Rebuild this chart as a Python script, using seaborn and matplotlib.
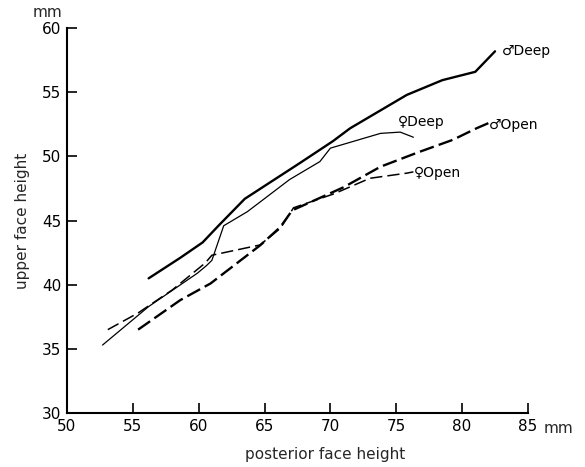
import matplotlib
matplotlib.use("Agg")
import matplotlib.pyplot as plt
import seaborn as sns
import pandas as pd

# Data (posterior face height vs upper face height, mm)
male_deep_x = [56.2, 58.6, 60.3, 61.5, 63.5, 67.7, 70.2, 71.5, 75.8, 78.5, 81.0, 82.5]
male_deep_y = [40.5, 42.1, 43.3, 44.6, 46.7, 49.5, 51.2, 52.2, 54.8, 55.95, 56.6, 58.2]

female_deep_x = [52.7, 56.2, 59.9, 60.6, 61.0, 61.9, 63.7, 66.9, 69.2, 70.0, 73.8, 75.3, 76.3]
female_deep_y = [35.3, 38.3, 40.9, 41.5, 41.9, 44.6, 45.7, 48.2, 49.6, 50.65, 51.8, 51.9, 51.5]

male_open_x = [55.4, 58.6, 60.9, 64.7, 66.2, 67.1, 71.0, 73.8, 76.6, 79.3, 81.1, 82.0]
male_open_y = [36.5, 38.8, 40.1, 43.1, 44.5, 45.8, 47.6, 49.2, 50.3, 51.3, 52.2, 52.6]

female_open_x = [53.1, 55.4, 58.0, 60.5, 61.0, 64.65, 66.2, 67.2, 70.3, 73.0, 75.8, 76.3]
female_open_y = [36.5, 37.8, 39.6, 41.7, 42.3, 43.1, 44.4, 46.0, 47.1, 48.3, 48.7, 48.8]

series_labels = ["\u2642Deep", "\u2640Deep", "\u2642Open", "\u2640Open"]
label_x = [83.0, 75.1, 82.0, 76.3]
label_y = [58.2, 52.7, 52.45, 48.7]

x_ticks = [50, 55, 60, 65, 70, 75, 80, 85]
y_ticks = [30, 35, 40, 45, 50, 55, 60]

sns.set_style("ticks")
plt.rcParams["font.family"] = ["DejaVu Sans"]

fig = plt.figure(figsize=(5.85, 4.67), dpi=100)
ax = fig.add_axes([0.1145, 0.1156, 0.788, 0.824])

styles = [
    (male_deep_x, male_deep_y, 1.7, "-"),
    (female_deep_x, female_deep_y, 0.9, "-"),
    (male_open_x, male_open_y, 1.7, (0, (6.2, 2.2))),
    (female_open_x, female_open_y, 1.1, (0, (8.0, 3.3))),
]
for xs, ys, lw, ls in styles:
    df = pd.DataFrame({"x": xs, "y": ys})
    sns.lineplot(data=df, x="x", y="y", ax=ax, color="black", linewidth=lw,
                 linestyle=ls, sort=False, estimator=None)

for txt, lx, ly in zip(series_labels, label_x, label_y):
    ax.text(lx, ly, txt, ha="left", va="center", fontsize=10, color="black")

ax.set_xlim(50, 85)
ax.set_ylim(30, 60)
ax.set_xticks(x_ticks)
ax.set_yticks(y_ticks)
ax.tick_params(direction="in", length=7, width=1.2, labelsize=11, pad=4, colors="black")
for s in ["top", "right"]:
    ax.spines[s].set_visible(False)
for s in ["left", "bottom"]:
    ax.spines[s].set_linewidth(1.5)
    ax.spines[s].set_color("black")

ax.set_xlabel("posterior face height", fontsize=11)
ax.set_ylabel("upper face height", fontsize=11)
ax.xaxis.set_label_coords(0.56, -0.088)
ax.yaxis.set_label_coords(-0.08, 0.5)

fig.text(0.082, 0.974, "mm", ha="center", va="center", fontsize=11)
fig.text(0.954, 0.0835, "mm", ha="center", va="center", fontsize=11)

fig.savefig("out.png", dpi=100)
